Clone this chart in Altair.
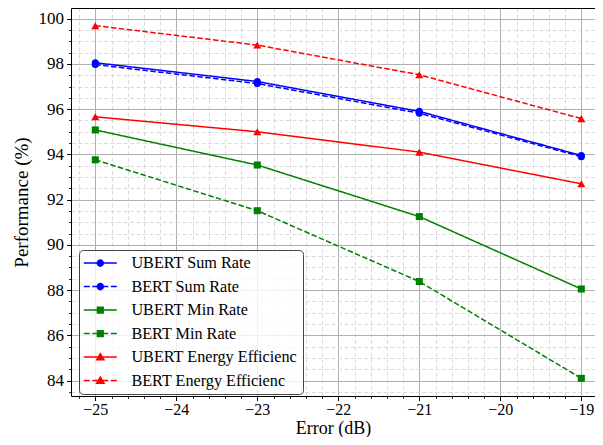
import altair as alt
import pandas as pd

# ---- data ----
errors = [-25, -23, -21, -19]
series_names = [
    "UBERT Sum Rate",
    "BERT Sum Rate",
    "UBERT Min Rate",
    "BERT Min Rate",
    "UBERT Energy Efficienc",
    "BERT Energy Efficienc",
]
ubert_sum = [98.05, 97.22, 95.90, 93.95]
bert_sum = [97.97, 97.13, 95.82, 93.90]
ubert_min = [95.08, 93.53, 91.25, 88.05]
bert_min = [93.76, 91.51, 88.38, 84.10]
ubert_ee = [95.66, 95.00, 94.10, 92.70]
bert_ee = [99.69, 98.83, 97.52, 95.58]

x_ticks = [-25, -24, -23, -22, -21, -20, -19]
y_ticks = [84, 86, 88, 90, 92, 94, 96, 98, 100]
x_minor = [v / 5 for v in range(-126, -93) if v % 5 != 0]
y_minor = [v / 2 for v in range(167, 201) if v % 4 != 0]

values_by_series = [ubert_sum, bert_sum, ubert_min, bert_min, ubert_ee, bert_ee]
rows = []
for name, vals in zip(series_names, values_by_series):
    for e, v in zip(errors, vals):
        rows.append({"series": name, "error": e, "value": v})
df = pd.DataFrame(rows)

# ---- styles ----
FONT = "Liberation Serif, Times New Roman, Times, serif"
series_colors = ["#0000ff", "#0000ff", "#008000", "#008000", "#ff0000", "#ff0000"]
series_dashes = [[1, 0], [5.5, 2.4], [1, 0], [5.5, 2.4], [1, 0], [5.5, 2.4]]
series_markers = ["circle", "circle", "square", "square", "triangle-up", "triangle-up"]
marker_sizes = [50, 50, 50, 50, 66, 66]

solid = "M-3,0H3"
dashed = "M-3,0H-1.91M-1.45,0H-0.36M0.36,0H1.45M1.91,0H3"
circ = "M0.55,0A0.55,0.55 0 1,1 -0.55,0A0.55,0.55 0 1,1 0.55,0Z"
sq = "M-0.52,-0.52H0.52V0.52H-0.52Z"
tri = "M0,-0.62L0.66,0.5H-0.66Z"
legend_shapes = [solid + circ, dashed + circ, solid + sq, dashed + sq, solid + tri, dashed + tri]

x_scale = alt.Scale(domain=[-25.3, -18.831], nice=False, zero=False)
y_scale = alt.Scale(domain=[83.32, 100.47], nice=False, zero=False)

base = alt.Chart(df)

# minor grid + minor ticks
minor = base.mark_point(opacity=0).encode(
    x=alt.X("error:Q", scale=x_scale, axis=alt.Axis(
        orient="bottom", values=x_minor, labels=False, domain=False, title=None,
        ticks=True, tickSize=2.5, tickColor="black", tickWidth=0.8,
        grid=True, gridColor="#d3d3d3", gridDash=[4, 2.5], gridWidth=0.8)),
    y=alt.Y("value:Q", scale=y_scale, axis=alt.Axis(
        orient="left", values=y_minor, labels=False, domain=False, title=None,
        ticks=True, tickSize=2.5, tickColor="black", tickWidth=0.8,
        grid=True, gridColor="#d3d3d3", gridDash=[4, 2.5], gridWidth=0.8)),
)

# top frame line
frame = base.mark_point(opacity=0).encode(
    x=alt.X("error:Q", scale=x_scale, axis=alt.Axis(
        orient="top", labels=False, ticks=False, grid=False, title=None,
        domain=True, domainColor="black", domainWidth=1)),
    y=alt.Y("value:Q", scale=y_scale, axis=None),
)

# major axes (carried by an invisible layer)
major = base.mark_point(opacity=0).encode(
    x=alt.X("error:Q", scale=x_scale, axis=alt.Axis(
        orient="bottom", values=x_ticks, title="Error (dB)", format="d",
        labelFont=FONT, labelFontSize=16, labelColor="black", labelPadding=0.5,
        titleFont=FONT, titleFontSize=18, titleFontWeight="normal", titleColor="black",
        titleBaseline="alphabetic", titleY=37.5, tickSize=4.5, tickColor="black", tickWidth=1,
        domainColor="black", domainWidth=1,
        grid=True, gridColor="#b0b0b0", gridWidth=1)),
    y=alt.Y("value:Q", scale=y_scale, axis=alt.Axis(
        orient="left", values=y_ticks, title="Performance (%)", format="d",
        labelFont=FONT, labelFontSize=17, labelColor="black", labelPadding=3,
        titleFont=FONT, titleFontSize=19, titleFontWeight="normal", titleColor="black",
        titlePadding=7, tickSize=4.5, tickColor="black", tickWidth=1,
        domainColor="black", domainWidth=1,
        grid=True, gridColor="#b0b0b0", gridWidth=1)),
)

# one line layer (with point overlay) per series, constant styles
series_layers = []
for name, col, dash, shp, msize in zip(series_names, series_colors, series_dashes, series_markers, marker_sizes):
    series_layers.append(
        base.transform_filter(alt.datum.series == name)
        .mark_line(
            color=col, strokeWidth=1.5, strokeDash=dash,
            point=alt.OverlayMarkDef(shape=shp, filled=True, size=msize, color=col, opacity=1),
        )
        .encode(
            x=alt.X("error:Q", scale=x_scale, axis=None),
            y=alt.Y("value:Q", scale=y_scale, axis=None),
        )
    )

leg = alt.Legend(
    title=None, orient="none", legendX=8, legendY=242,
    symbolSize=121, symbolStrokeWidth=1.5, symbolOpacity=1,
    labelFont=FONT, labelFontSize=16.2, labelColor="black", labelLimit=400,
    padding=5, rowPadding=6.5, symbolOffset=8.2, labelOffset=23,
    fillColor="rgba(255,255,255,0.8)", strokeColor="#444", cornerRadius=4,
)
# legend-only layer: draws no marks (all rows filtered out); entries come from the explicit scale domain
legend_layer = (
    base.transform_filter("datum.value < 0")
    .mark_point(filled=True, size=121)
    .encode(
        x=alt.X("error:Q", scale=x_scale, axis=None),
        y=alt.Y("value:Q", scale=y_scale, axis=None),
        fill=alt.Fill("series:N", scale=alt.Scale(domain=series_names, range=series_colors), legend=leg),
        stroke=alt.Stroke("series:N", scale=alt.Scale(domain=series_names, range=series_colors), legend=leg),
        shape=alt.Shape("series:N", scale=alt.Scale(domain=series_names, range=legend_shapes), legend=leg),
    )
)

chart = (
    alt.layer(minor, frame, major, *series_layers, legend_layer)
    .resolve_axis(x="independent", y="independent")
    .properties(
        width=524, height=388,
        padding={"left": 63, "top": 0, "right": 0, "bottom": 41},
        autosize=alt.AutoSizeParams(type="none"),
    )
    .configure(font=FONT)
    .configure_view(stroke=None)
)

chart.save("out.html", embed_options={"renderer": "svg", "actions": False})
